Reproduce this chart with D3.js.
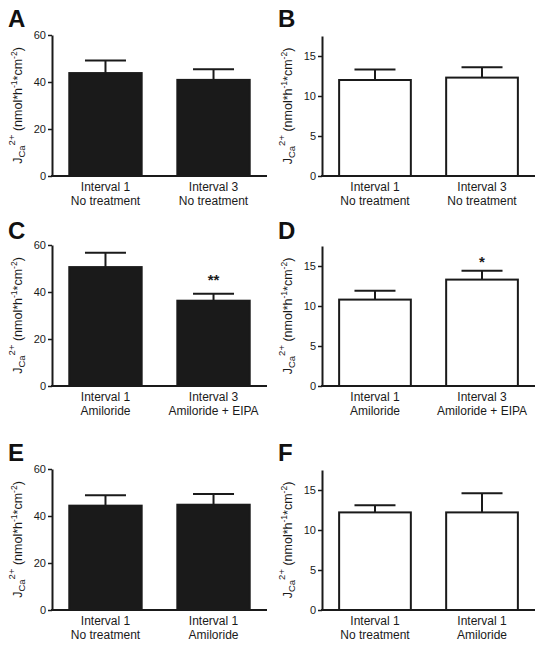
<!DOCTYPE html>
<html><head><meta charset="utf-8">
<script src="https://cdnjs.cloudflare.com/ajax/libs/d3/7.8.5/d3.min.js"></script>
<style>body{margin:0;background:#fff}svg{display:block}text{font-family:"Liberation Sans",Arial,Helvetica,sans-serif;fill:#1a1a1a}</style>
</head><body>
<script>
// ---- data ----
const panelLetters = ["A","B","C","D","E","F"];
const categoriesA = [["Interval 1","No treatment"],["Interval 3","No treatment"]];
const categoriesB = [["Interval 1","No treatment"],["Interval 3","No treatment"]];
const categoriesC = [["Interval 1","Amiloride"],["Interval 3","Amiloride + EIPA"]];
const categoriesD = [["Interval 1","Amiloride"],["Interval 3","Amiloride + EIPA"]];
const categoriesE = [["Interval 1","No treatment"],["Interval 1","Amiloride"]];
const categoriesF = [["Interval 1","No treatment"],["Interval 1","Amiloride"]];
const meansA = [43.8, 40.9];  const semA = [5.3, 4.5];
const meansB = [12.0, 12.3];  const semB = [1.3, 1.3];
const meansC = [50.6, 36.3];  const semC = [6.1, 3.0];
const meansD = [10.8, 13.3];  const semD = [1.1, 1.1];
const meansE = [44.4, 44.8];  const semE = [4.4, 4.6];
const meansF = [12.2, 12.2];  const semF = [0.9, 2.4];
const sigD = ["", "*"];
const sigC = ["", "**"];
const sigNone = ["", ""];
const ticksLeft = [0, 20, 40, 60];
const ticksRight = [0, 5, 10, 15];
const domainLeft = [0, 60];
const domainRight = [0, 17.5];

// ---- layout ----
const W = 543, H = 647;
const svg = d3.select("body").append("svg").attr("width", W).attr("height", H);

const panels = [
  {letter: panelLetters[0], cats: categoriesA, means: meansA, sem: semA, sig: sigNone, sigOff: 6, fill: "#1a1a1a", ticks: ticksLeft, domain: domainLeft, x0: 52, x1: 267, top: 35, bottom: 176, lx: 8, ly: 27, labx: 22},
  {letter: panelLetters[1], cats: categoriesB, means: meansB, sem: semB, sig: sigNone, sigOff: 6, fill: "#fff", ticks: ticksRight, domain: domainRight, x0: 322, x1: 535, top: 36, bottom: 176, lx: 278, ly: 27, labx: 292},
  {letter: panelLetters[2], cats: categoriesC, means: meansC, sem: semC, sig: sigC, sigOff: 9, fill: "#1a1a1a", ticks: ticksLeft, domain: domainLeft, x0: 52, x1: 267, top: 245, bottom: 386, lx: 8, ly: 239, labx: 22},
  {letter: panelLetters[3], cats: categoriesD, means: meansD, sem: semD, sig: sigD, sigOff: 4, fill: "#fff", ticks: ticksRight, domain: domainRight, x0: 322, x1: 535, top: 246, bottom: 386, lx: 278, ly: 239, labx: 292},
  {letter: panelLetters[4], cats: categoriesE, means: meansE, sem: semE, sig: sigNone, sigOff: 6, fill: "#1a1a1a", ticks: ticksLeft, domain: domainLeft, x0: 52, x1: 267, top: 469, bottom: 610, lx: 8, ly: 461, labx: 22},
  {letter: panelLetters[5], cats: categoriesF, means: meansF, sem: semF, sig: sigNone, sigOff: 6, fill: "#fff", ticks: ticksRight, domain: domainRight, x0: 322, x1: 535, top: 470, bottom: 610, lx: 278, ly: 461, labx: 292}
];

panels.forEach(p => {
  const g = svg.append("g");
  const idx = p.cats.map((c, i) => i);
  const x = d3.scaleBand().domain(idx).range([p.x0, p.x1]).paddingInner(0.33).paddingOuter(0.16);
  const y = d3.scaleLinear().domain(p.domain).range([p.bottom, p.top]);

  // panel letter
  g.append("text").attr("x", p.lx).attr("y", p.ly)
    .attr("font-size", 24).attr("font-weight", "bold").style("fill", "#111").text(p.letter);

  // bars
  g.selectAll("rect.bar").data(idx).join("rect").attr("class", "bar")
    .attr("x", i => x(i)).attr("width", x.bandwidth())
    .attr("y", i => y(p.means[i])).attr("height", i => y(0) - y(p.means[i]))
    .attr("fill", p.fill).attr("stroke", "#1a1a1a").attr("stroke-width", 2);

  // error bars (upper only)
  const capW = 41;
  idx.forEach(i => {
    const cx = x(i) + x.bandwidth() / 2;
    const yt = y(p.means[i] + p.sem[i]);
    g.append("line").attr("x1", cx).attr("x2", cx).attr("y1", y(p.means[i])).attr("y2", yt)
      .attr("stroke", "#1a1a1a").attr("stroke-width", 2);
    g.append("line").attr("x1", cx - capW / 2).attr("x2", cx + capW / 2).attr("y1", yt).attr("y2", yt)
      .attr("stroke", "#1a1a1a").attr("stroke-width", 2);
    if (p.sig[i]) {
      g.append("text").attr("x", cx).attr("y", yt - p.sigOff).attr("text-anchor", "middle")
        .attr("font-size", 15).attr("font-weight", "bold").text(p.sig[i]);
    }
    // category labels
    const t = g.append("text").attr("text-anchor", "middle").attr("font-size", 12);
    p.cats[i].forEach((line, k) => {
      t.append("tspan").attr("x", cx).attr("y", p.bottom + 15 + k * 14).text(line);
    });
  });

  // y axis
  const ax = g.append("g").attr("transform", `translate(${p.x0},0)`)
    .call(d3.axisLeft(y).tickValues(p.ticks).tickSize(4).tickSizeOuter(0).tickPadding(2));
  ax.select(".domain").attr("stroke", "#1a1a1a").attr("stroke-width", 2);
  ax.selectAll(".tick line").attr("stroke", "#1a1a1a").attr("stroke-width", 1.5);
  ax.selectAll(".tick text").attr("font-size", 11).attr("font-family", "Liberation Sans, Arial, sans-serif").style("fill", "#1a1a1a");

  // x axis line
  const bx = g.append("g").attr("transform", `translate(0,${p.bottom})`)
    .call(d3.axisBottom(x).tickSize(0).tickFormat(""));
  bx.select(".domain").attr("stroke", "#1a1a1a").attr("stroke-width", 2)
    .attr("d", `M${p.x0 - 1},0H${p.x1}`);

  // y label
  const cy = (p.top + p.bottom) / 2;
  const lab = g.append("text").attr("transform", `translate(${p.labx},${cy}) rotate(-90)`)
    .attr("text-anchor", "middle").attr("font-size", 12.5);
  lab.append("tspan").text("J");
  lab.append("tspan").attr("font-size", 9.5).attr("dy", 3).text("Ca");
  lab.append("tspan").attr("font-size", 9.5).attr("dy", -10).text("2+");
  lab.append("tspan").attr("dy", 7).text(" (nmol*h");
  lab.append("tspan").attr("font-size", 8.5).attr("dy", -5).text("-1");
  lab.append("tspan").attr("dy", 5).text("*cm");
  lab.append("tspan").attr("font-size", 8.5).attr("dy", -5).text("-2");
  lab.append("tspan").attr("dy", 5).text(")");
});
</script>
</body></html>
